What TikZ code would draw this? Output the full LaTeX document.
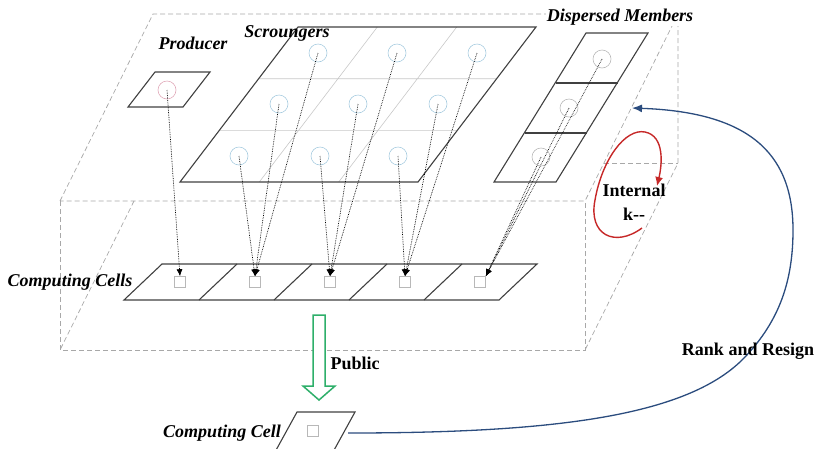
\documentclass[tikz,border=0pt]{standalone}
\usepackage{fontspec}
\setmainfont{Liberation Serif}
\usepackage{tikz}
\usetikzlibrary{arrows.meta,positioning}
\definecolor{planeline}{HTML}{404040}
\definecolor{boxdash}{HTML}{A8A8A8}
\definecolor{gridgray}{HTML}{C8C8C8}
\definecolor{prodpink}{HTML}{E0A8B8}
\definecolor{scrblue}{HTML}{A8CCE0}
\definecolor{dispgray}{HTML}{B8B8B8}
\definecolor{cellgray}{HTML}{B8B8B8}
\definecolor{publicgreen}{HTML}{2EAF6A}
\definecolor{loopred}{HTML}{C62828}
\definecolor{rankblue}{HTML}{2B4C7E}

\begin{document}
\begin{tikzpicture}[
  x=1pt,y=-1pt,
  hidden/.style={draw=boxdash,dash pattern=on 5pt off 3pt,line width=0.7pt},
  plane/.style={draw=planeline,line width=1.1pt},
  gridline/.style={draw=gridgray,line width=0.6pt},
  agent/.style={circle,draw=#1,line width=0.6pt,minimum size=18pt,inner sep=0pt},
  cellbox/.style={draw=cellgray,line width=0.6pt,minimum size=11pt,inner sep=0pt},
  follow/.style={densely dotted,-{Latex[length=7pt,width=6pt]},line width=0.7pt,color=black},
  lab/.style={font=\bfseries\itshape\fontsize{18}{20}\selectfont,inner sep=1pt},
  tag/.style={font=\bfseries\fontsize{18}{24}\selectfont,align=center,inner sep=1pt},
  publicarrow/.style={draw=publicgreen,line width=1.5pt,fill=white,line join=miter},
  looparrow/.style={draw=loopred,line width=1.4pt,-{Latex[length=9pt,width=8pt]}},
  rankarrow/.style={draw=rankblue,line width=1.3pt,-{Latex[length=10pt,width=8pt]}}
]
\useasboundingbox (0,0) rectangle (818,448);
% the box, drawn as seen through
\draw[hidden] (60,201) -- (153,14) -- (678,14) -- (585,201) -- cycle;
\draw[hidden] (60,201) -- (60,350) -- (585,350) -- (585,201);
\draw[hidden] (678,14) -- (678,163) -- (585,350);
\draw[hidden] (604,163) -- (678,163);
\draw[hidden] (134,201) -- (60,350);
% producer plane
\draw[plane] (128,107) -- (183,107) -- (210,72) -- (155,72) -- cycle;
% scroungers plane with its grid
\draw[gridline] (219.3,130.3) -- (457.3,130.3) (258.7,78.7) -- (496.7,78.7)
  (259.3,182) -- (377.3,27) (338.7,182) -- (456.7,27);
\draw[plane] (180,182) -- (418,182) -- (536,27) -- (298,27) -- cycle;
% dispersed members
\draw[plane] (494,182) -- (556,182) -- (648,33) -- (586,33) -- cycle;
\draw[plane] (556,83) -- (618,83) (525,133) -- (587,133);
% computing cells
\draw[plane] (124,300) -- (499,300) -- (537,264) -- (162,264) -- cycle;
\draw[plane] (199,300) -- (237,264) (274,300) -- (312,264)
  (349,300) -- (387,264) (424,300) -- (462,264);
\draw[plane] (275,452) -- (297,412) -- (355,412) -- (333,452) -- cycle;

\node[agent=prodpink] (prod) at (167,90) {};
\node[agent=scrblue] (scr11) at (318,53) {};
\node[agent=scrblue] (scr12) at (397,53) {};
\node[agent=scrblue] (scr13) at (477,53) {};
\node[agent=scrblue] (scr21) at (279,104) {};
\node[agent=scrblue] (scr22) at (358,104) {};
\node[agent=scrblue] (scr23) at (438,104) {};
\node[agent=scrblue] (scr31) at (239,156) {};
\node[agent=scrblue] (scr32) at (320,156) {};
\node[agent=scrblue] (scr33) at (398,156) {};
\node[agent=dispgray] (disp1) at (602,59) {};
\node[agent=dispgray] (disp2) at (569,108) {};
\node[agent=dispgray] (disp3) at (541,157) {};

\node[cellbox] (cell1) at (180,282) {};
\node[cellbox] (cell2) at (255,282) {};
\node[cellbox] (cell3) at (330,282) {};
\node[cellbox] (cell4) at (405,282) {};
\node[cellbox] (cell5) at (480,282) {};
\node[cellbox] (single) at (313,431) {};

\draw[follow] (prod.center) -- (cell1.north);
\draw[follow] (scr11.center) -- (cell2.north);
\draw[follow] (scr21.center) -- (cell2.north);
\draw[follow] (scr31.center) -- (cell2.north);
\draw[follow] (scr12.center) -- (cell3.north);
\draw[follow] (scr22.center) -- (cell3.north);
\draw[follow] (scr32.center) -- (cell3.north);
\draw[follow] (scr13.center) -- (cell4.north);
\draw[follow] (scr23.center) -- (cell4.north);
\draw[follow] (scr33.center) -- (cell4.north);
\draw[follow] (disp1.center) -- (cell5.north east);
\draw[follow] (disp2.center) -- (cell5.north east);
\draw[follow] (disp3.center) -- (cell5.north east);

\node[lab] (producer) at (193,43) {Producer};
\node[lab] (scroungers) at (287,33) {Scroungers};
\node[lab,fill=white] (dispersed) at (620,17) {Dispersed Members};
\node[lab] (cellsname) at (70,282) {Computing Cells};
\node[lab] (singlename) at (222,433) {Computing Cell};

% public
\draw[publicarrow] (313,315) -- (325,315) -- (325,386) -- (335,386) -- (319,400)
  -- (303,386) -- (313,386) -- cycle;
\node[tag] (public) at (355,363) {Public};

% internal loop
\coordinate (loopstart) at (642,228);
\coordinate (loopend) at (657,186);
\draw[looparrow] (loopstart) .. controls (615,248) and (588,235) .. (595,200)
  .. controls (602,160) and (625,128) .. (645,132)
  .. controls (665,136) and (662,165) .. (loopend);
\node[tag] (internal) at (634,202) {Internal\\k-{}-};

% rank and resign
\coordinate (singleout) at (348,433);
\coordinate (rankend) at (632,108);
\draw[rankarrow] (singleout) .. controls (560,433) and (690,415) .. (745,357)
  .. controls (780,320) and (793,280) .. (793,230)
  .. controls (793,150) and (745,112) .. (rankend);
\node[tag] (rank) at (748,351) {Rank and Resign};
\end{tikzpicture}
\end{document}
